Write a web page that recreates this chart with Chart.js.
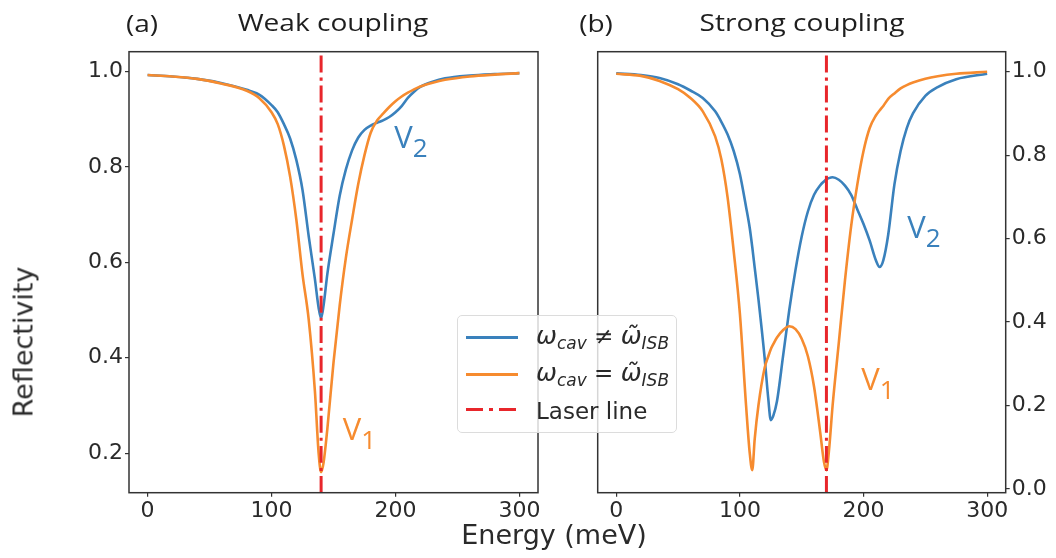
<!DOCTYPE html>
<html>
<head>
<meta charset="utf-8">
<script src="https://cdn.jsdelivr.net/npm/chart.js@4.4.1/dist/chart.umd.min.js"></script>
<style>
  body { margin: 0; background: #fff; }
  #wrap { position: relative; width: 1056px; height: 558px; overflow: hidden; color: #1e1e1e; }
  canvas { position: absolute; left: 0; top: 0; }
  .txt { position: absolute; white-space: nowrap; line-height: 1; }
  .head { font-family: 'Open Sans', sans-serif; font-size: 24px; transform: translate(-50%, -50%) scaleX(1.17); }
  .axlab { font-family: 'DejaVu Sans', sans-serif; font-size: 27px; color: #2a2a2a; }
  #legend { position: absolute; left: 457px; top: 315px; width: 220px; height: 118px; box-sizing: border-box;
            background: rgba(255,255,255,0.8); border: 1px solid #dcdcdc; border-radius: 5px;
            font-family: 'DejaVu Sans', sans-serif; font-size: 23px; color: #2a2a2a; }
  #legend .sw { position: absolute; left: 8px; width: 52px; height: 3px; }
  #legend .lb { position: absolute; left: 78px; line-height: 1; transform: translateY(-50%); white-space: nowrap; }
  #legend i { font-style: italic; font-size: 25px; }
  #legend sub { font-size: 17px; font-style: italic; vertical-align: -5px; }
</style>
</head>
<body>
<div id="wrap">
  <canvas id="weak" width="1056" height="558"></canvas>
  <canvas id="strong" width="1056" height="558"></canvas>

  <div class="txt head" style="left:142px; top:23px;">(a)</div>
  <div class="txt head" style="left:333px; top:22px;">Weak coupling</div>
  <div class="txt head" style="left:596px; top:23px;">(b)</div>
  <div class="txt head" style="left:802px; top:22px;">Strong coupling</div>
  <div class="txt axlab" style="left:23px; top:342px; transform: translate(-50%, -50%) rotate(-90deg);">Reflectivity</div>
  <div class="txt axlab" style="left:554px; top:534px; transform: translate(-50%, -50%);">Energy (meV)</div>

  <div id="legend">
    <div class="sw" style="top:20px; background:#3a81bc;"></div>
    <div class="lb" style="top:21px;"><i>ω</i><sub>cav</sub> ≠ <i>ω̃</i><sub>ISB</sub></div>
    <div class="sw" style="top:57px; background:#f68b2f;"></div>
    <div class="lb" style="top:58px;"><i>ω</i><sub>cav</sub> = <i>ω̃</i><sub>ISB</sub></div>
    <div class="sw" style="top:92px; background: repeating-linear-gradient(90deg, #e8262b 0 17px, transparent 17px 23px, #e8262b 23px 27px, transparent 27px 33px);"></div>
    <div class="lb" style="top:95px;">Laser line</div>
  </div>
</div>

<script>
// ---- data ----
// (a) weak coupling
const weakEnergy = [0, 20, 40, 60, 80, 90, 100, 105, 110, 115, 120, 125, 130, 135, 138, 140, 142, 145, 150, 155,
                    160, 165, 170, 175, 180, 185, 190, 195, 200, 205, 210, 215, 220, 230, 240, 260, 280, 300];
const weakDetuned = [0.993, 0.99, 0.985, 0.976, 0.962, 0.952, 0.93, 0.915, 0.89, 0.86, 0.815, 0.752, 0.655, 0.565, 0.505, 0.483, 0.51, 0.575, 0.66, 0.74,
                     0.795, 0.835, 0.862, 0.878, 0.887, 0.893, 0.898, 0.905, 0.915, 0.928, 0.945, 0.958, 0.968, 0.979, 0.986, 0.992, 0.995, 0.997];
const weakResonant = [0.993, 0.99, 0.985, 0.975, 0.96, 0.945, 0.915, 0.89, 0.845, 0.78, 0.69, 0.575, 0.48, 0.33, 0.2, 0.16, 0.18, 0.25, 0.39, 0.51,
                      0.61, 0.69, 0.765, 0.825, 0.872, 0.897, 0.912, 0.926, 0.938, 0.948, 0.956, 0.963, 0.969, 0.977, 0.983, 0.99, 0.994, 0.997];
const weakLaser = 140;

// (b) strong coupling
const strongEnergy = [0, 20, 35, 50, 60, 70, 80, 85, 90, 95, 100, 105, 108, 110, 112, 115, 120, 123, 125, 127,
                      130, 135, 140, 145, 150, 155, 160, 165, 168, 170, 172, 175, 180, 185, 190, 195, 200, 205, 210, 213,
                      216, 220, 225, 230, 235, 240, 250, 260, 275, 300];
const strongDetuned = [0.996, 0.992, 0.985, 0.97, 0.955, 0.937, 0.905, 0.88, 0.85, 0.81, 0.755, 0.676, 0.625, 0.58, 0.53, 0.455, 0.315, 0.215, 0.165, 0.175,
                       0.21, 0.32, 0.43, 0.525, 0.605, 0.665, 0.705, 0.728, 0.737, 0.742, 0.745, 0.747, 0.741, 0.727, 0.705, 0.67, 0.635, 0.595, 0.548, 0.532,
                       0.548, 0.61, 0.73, 0.81, 0.865, 0.9, 0.942, 0.963, 0.982, 0.995];
const strongResonant = [0.995, 0.99, 0.978, 0.958, 0.937, 0.905, 0.845, 0.79, 0.7, 0.57, 0.42, 0.2, 0.085, 0.045, 0.12, 0.2, 0.29, 0.318, 0.335, 0.347,
                        0.363, 0.381, 0.39, 0.383, 0.36, 0.318, 0.245, 0.135, 0.065, 0.045, 0.09, 0.2, 0.35, 0.5, 0.63, 0.73, 0.81, 0.865, 0.895, 0.907,
                        0.918, 0.935, 0.948, 0.96, 0.968, 0.974, 0.983, 0.989, 0.995, 1.0];
const strongLaser = 170;

const energyTicks = [0, 100, 200, 300];
const weakTicks = [0.2, 0.4, 0.6, 0.8, 1.0];
const strongTicks = [0.0, 0.2, 0.4, 0.6, 0.8, 1.0];

// peak labels (V1 / V2), in data units
const weakLabels = [
  { name: 'V', sub: '2', energy: 199, refl: 0.84, color: '#3a81bc' },
  { name: 'V', sub: '1', energy: 157.5, refl: 0.228, color: '#f68b2f' }
];
const strongLabels = [
  { name: 'V', sub: '2', energy: 235.4, refl: 0.601, color: '#3a81bc' },
  { name: 'V', sub: '1', energy: 198.2, refl: 0.237, color: '#f68b2f' }
];

const BLUE = '#3a81bc', ORANGE = '#f68b2f', RED = '#e8262b';

function pts(xs, ys) {
  return xs.map((x, i) => ({ x: x, y: ys[i] }));
}

// full frame round the axes, like matplotlib spines
const frame = {
  id: 'frame',
  afterDatasetsDraw(chart) {
    const a = chart.chartArea, ctx = chart.ctx;
    ctx.save();
    ctx.strokeStyle = '#333';
    ctx.lineWidth = 1.5;
    ctx.strokeRect(a.left, a.top, a.right - a.left, a.bottom - a.top);
    ctx.restore();
  }
};

const peakLabels = {
  id: 'peakLabels',
  afterDraw(chart, args, opts) {
    const ctx = chart.ctx, sx = chart.scales.x, sy = chart.scales.y;
    ctx.save();
    ctx.textBaseline = 'alphabetic';
    opts.items.forEach(l => {
      const px = sx.getPixelForValue(l.energy), py = sy.getPixelForValue(l.refl);
      ctx.fillStyle = l.color;
      ctx.font = '31px "Open Sans"';
      ctx.fillText(l.name, px, py);
      const w = ctx.measureText(l.name).width;
      ctx.font = '26px "Open Sans"';
      ctx.fillText(l.sub, px + w, py + 9);
    });
    ctx.restore();
  }
};

function makePanel(id, cfg) {
  const yW = cfg.yRight ? 1056 - cfg.right : 60;
  return new Chart(document.getElementById(id), {
    type: 'line',
    data: {
      datasets: [
        { label: 'detuned', data: pts(cfg.energy, cfg.detuned), borderColor: BLUE, borderWidth: 2.6, order: 2 },
        { label: 'resonant', data: pts(cfg.energy, cfg.resonant), borderColor: ORANGE, borderWidth: 2.6, order: 1 },
        { label: 'Laser line', data: [{ x: cfg.laser, y: cfg.yMin }, { x: cfg.laser, y: cfg.yMax }],
          borderColor: RED, borderWidth: 3, borderDash: [17, 5, 3, 5], order: 0 }
      ]
    },
    options: {
      responsive: false,
      animation: false,
      events: [],
      elements: {
        point: { radius: 0 },
        line: { cubicInterpolationMode: 'monotone', fill: false }
      },
      layout: {
        padding: cfg.yRight
          ? { left: cfg.left, right: 0, top: 51.7, bottom: 0 }
          : { left: cfg.left - yW, right: 1056 - cfg.right, top: 51.7, bottom: 0 }
      },
      plugins: {
        legend: { display: false },
        tooltip: { enabled: false },
        peakLabels: { items: cfg.labels }
      },
      scales: {
        x: {
          type: 'linear',
          min: -15,
          max: 315,
          afterBuildTicks: s => { s.ticks = energyTicks.map(v => ({ value: v })); },
          afterFit: s => { s.height = 558 - 492.7; },
          ticks: {
            font: { family: 'DejaVu Sans', size: 22 },
            color: '#2a2a2a',
            padding: 1,
            maxRotation: 0,
            autoSkip: false,
            callback: v => String(v)
          },
          grid: { drawOnChartArea: false, drawTicks: true, tickLength: 4, color: '#333', lineWidth: 1.2 },
          border: { display: false }
        },
        y: {
          type: 'linear',
          position: cfg.yRight ? 'right' : 'left',
          min: cfg.yMin,
          max: cfg.yMax,
          afterBuildTicks: s => { s.ticks = cfg.ticks.map(v => ({ value: v })); },
          afterFit: s => { s.width = yW; },
          ticks: {
            font: { family: 'DejaVu Sans', size: 22 },
            color: '#2a2a2a',
            padding: 2,
            callback: v => v.toFixed(1)
          },
          grid: { drawOnChartArea: false, drawTicks: true, tickLength: 4, color: '#333', lineWidth: 1.2 },
          border: { display: false }
        }
      }
    },
    plugins: [frame, peakLabels]
  });
}

makePanel('weak', {
  energy: weakEnergy, detuned: weakDetuned, resonant: weakResonant, laser: weakLaser,
  yMin: 0.117, yMax: 1.042, ticks: weakTicks, labels: weakLabels,
  left: 129, right: 538, yRight: false
});

makePanel('strong', {
  energy: strongEnergy, detuned: strongDetuned, resonant: strongResonant, laser: strongLaser,
  yMin: -0.009, yMax: 1.048, ticks: strongTicks, labels: strongLabels,
  left: 597.7, right: 1005.7, yRight: true
});
</script>
</body>
</html>
